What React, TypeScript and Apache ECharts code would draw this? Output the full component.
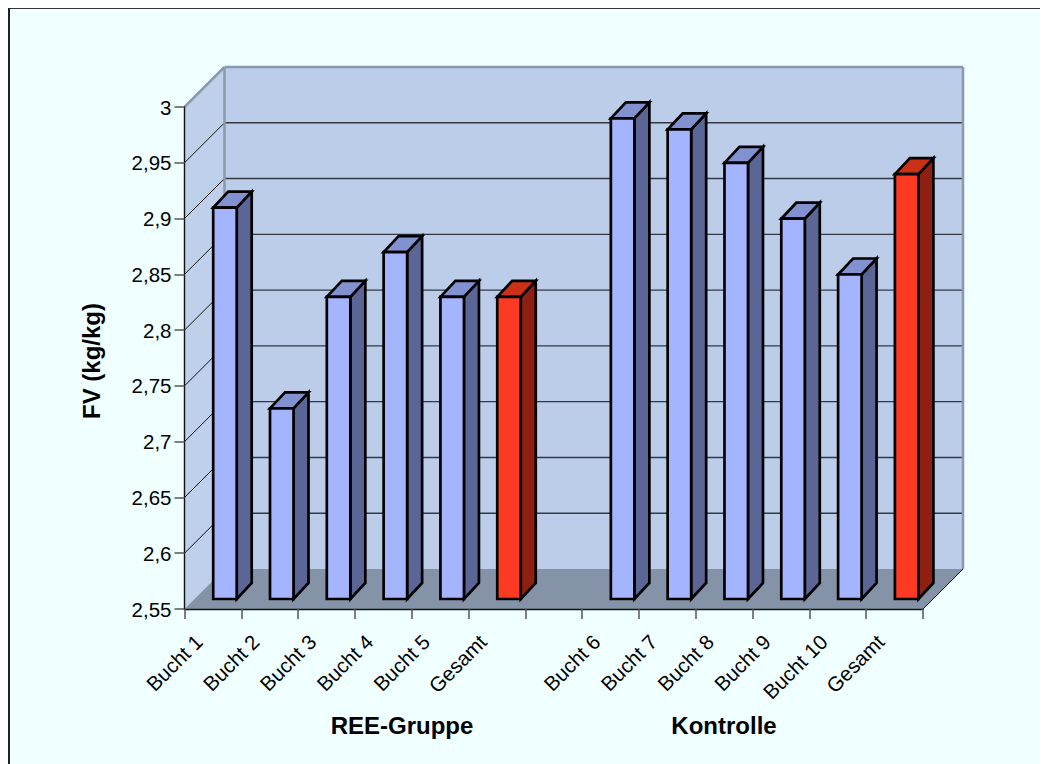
import React, { useEffect, useRef } from "react";
import * as echarts from "echarts";

const categories = ["Bucht 1", "Bucht 2", "Bucht 3", "Bucht 4", "Bucht 5", "Gesamt", "", "Bucht 6", "Bucht 7", "Bucht 8", "Bucht 9", "Bucht 10", "Gesamt"];
const values: (number | null)[] = [2.9, 2.72, 2.82, 2.86, 2.82, 2.82, null, 2.98, 2.97, 2.94, 2.89, 2.84, 2.93];
const gridTicks = [2.55, 2.6, 2.65, 2.7, 2.75, 2.8, 2.85, 2.9, 2.95, 3];
const MIN = 2.55;
const MAX = 3;

const FONT = "'Liberation Sans', Arial, sans-serif";
const DEPTH = 40;

function renderWalls(_params: any, api: any) {
  const pt = (i: number, v: number) => api.coord([i, v]);
  const bandW = api.size([1, 0])[0];
  const [x0, yBottom] = pt(0, MIN);
  const yTop = pt(0, MAX)[1];
  const x1 = x0 - bandW / 2 + bandW * categories.length;
  const left = x0 - bandW / 2;
  const right = x1;
  const poly = (points: number[][], style: any) => ({ type: "polygon", shape: { points }, style, silent: true });
  const line = (a: number, b: number, c: number, d: number, stroke: string, lineWidth: number) => ({
    type: "line",
    shape: { x1: a, y1: b, x2: c, y2: d },
    style: { stroke, lineWidth },
    silent: true,
  });
  const children: any[] = [
    poly(
      [[left + DEPTH, yTop - DEPTH], [right + DEPTH, yTop - DEPTH], [right + DEPTH, yBottom - DEPTH], [left + DEPTH, yBottom - DEPTH]],
      { fill: "#BBCDE9" }
    ),
    poly(
      [[left, yTop], [left + DEPTH, yTop - DEPTH], [left + DEPTH, yBottom - DEPTH], [left, yBottom]],
      { fill: "#BFD0EA" }
    ),
    poly(
      [[left, yBottom], [left + DEPTH, yBottom - DEPTH], [right + DEPTH, yBottom - DEPTH], [right, yBottom]],
      { fill: "#8493A8" }
    ),
  ];
  gridTicks.forEach((t) => {
    const y = pt(0, t)[1];
    if (t > MIN && t < MAX) {
      children.push(line(left + DEPTH, y - DEPTH, right + DEPTH, y - DEPTH, "#333844", 1.4));
      children.push(line(left, y, left + DEPTH, y - DEPTH, "#111", 1));
    }
  });
  children.push(line(left + DEPTH, yTop - DEPTH, left + DEPTH, yBottom - DEPTH, "#8A99AD", 2.5));
  children.push(line(right + DEPTH, yTop - DEPTH, right + DEPTH, yBottom - DEPTH, "#8A99AD", 2.5));
  children.push(line(left + DEPTH, yTop - DEPTH, right + DEPTH, yTop - DEPTH, "#8A99AD", 2.5));
  children.push(line(left, yTop, left + DEPTH, yTop - DEPTH, "#8A99AD", 2.5));
  children.push(line(right, yBottom, right + DEPTH, yBottom - DEPTH, "#111", 1));
  return { type: "group", children };
}

function renderBar(_params: any, api: any) {
  const i = api.value(0);
  const v = api.value(1);
  if (v == null || isNaN(v)) return null;
  const [cx, yv] = api.coord([i, v]);
  const yb = api.coord([i, MIN])[1];
  const isTotal = categories[i] === "Gesamt";
  const front = isTotal ? "#FF3A22" : "#A5B4FF";
  const topC = isTotal ? "#CC3016" : "#8291D0";
  const sideC = isTotal ? "#8F1F10" : "#5C6696";
  const w = 23.5;
  const dx = 15;
  const dy = 16;
  const l = cx + 0.3;
  const r = l + w;
  const t = yv - 11;
  const b = yb - 10;
  const style = (fill: string) => ({ fill, stroke: "#000", lineWidth: 2.7, lineJoin: "miter" });
  return {
    type: "group",
    children: [
      { type: "polygon", shape: { points: [[r, t], [r + dx, t - dy], [r + dx, b - dy], [r, b]] }, style: style(sideC) },
      { type: "polygon", shape: { points: [[l, t], [l + dx, t - dy], [r + dx, t - dy], [r, t]] }, style: style(topC) },
      { type: "polygon", shape: { points: [[l, t], [r, t], [r, b], [l, b]] }, style: style(front) },
    ],
  };
}

export default function App() {
  const ref = useRef<HTMLDivElement>(null);
  useEffect(() => {
    const chart = echarts.init(ref.current!, undefined, { renderer: "svg" });
    chart.setOption({
      animation: false,
      backgroundColor: "#F0FFFF",
      textStyle: { fontFamily: FONT },
      grid: { left: 176.5, top: 100, width: 738.5, height: 502, containLabel: false },
      xAxis: {
        type: "category",
        data: categories,
        z: 5,
        axisLine: { show: true, lineStyle: { color: "#111", width: 1.4 } },
        axisTick: { show: true, length: 10, alignWithLabel: false, interval: 0, lineStyle: { color: "#555", width: 1.5 } },
        axisLabel: { interval: 0, rotate: 45, margin: 15, padding: [0, 20, 0, 0], color: "#000", fontSize: 20.5, fontFamily: FONT },
      },
      yAxis: {
        type: "value",
        min: MIN,
        max: MAX,
        interval: 0.05,
        z: 5,
        splitLine: { show: false },
        axisLine: { show: true, lineStyle: { color: "#111", width: 1.4 } },
        axisTick: { show: true, length: 10, lineStyle: { color: "#555", width: 1.5 } },
        axisLabel: {
          margin: 13,
          color: "#000",
          fontSize: 20.5,
          fontFamily: FONT,
          formatter: (v: number) => String(Math.round(v * 100) / 100).replace(".", ","),
        },
      },
      series: [
        { type: "custom", z: 1, silent: true, renderItem: renderWalls, data: [[0, MIN]], encode: { x: 0, y: 1 } },
        {
          type: "custom",
          z: 6,
          silent: true,
          renderItem: renderBar,
          data: values.map((v, i) => [i, v]),
          encode: { x: 0, y: 1 },
        },
      ],
      graphic: [
        { type: "rect", z: 9, shape: { x: 0, y: 0, width: 1040, height: 757 }, style: { fill: "transparent" }, silent: true },
        { type: "line", z: 10, shape: { x1: 0, y1: 1, x2: 1040, y2: 1 }, style: { stroke: "#333", lineWidth: 2 } },
        { type: "line", z: 10, shape: { x1: 1, y1: 0, x2: 1, y2: 757 }, style: { stroke: "#222", lineWidth: 2 } },
        { type: "text", x: 394, y: 718, style: { text: "REE-Gruppe", font: `bold 24px ${FONT}`, fill: "#000", textAlign: "center", textVerticalAlign: "middle" } },
        { type: "text", x: 716, y: 718, style: { text: "Kontrolle", font: `bold 24px ${FONT}`, fill: "#000", textAlign: "center", textVerticalAlign: "middle" } },
        { type: "text", x: 83, y: 354, rotation: Math.PI / 2, style: { text: "FV (kg/kg)", font: `bold 24px ${FONT}`, fill: "#000", textAlign: "center", textVerticalAlign: "middle" } },
      ],
    });
    return () => chart.dispose();
  }, []);
  return <div ref={ref} style={{ width: 1040, height: 757, marginTop: -1 }} />;
}
